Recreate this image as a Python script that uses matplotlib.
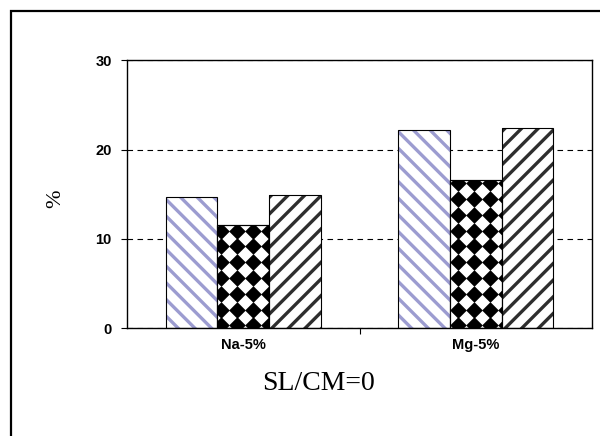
import numpy as np
import matplotlib
matplotlib.use("Agg")
import matplotlib.pyplot as plt
from matplotlib.patches import Rectangle

# values (%) for the three series in each group
groups = ["Na-5%", "Mg-5%"]
series_a = [14.7, 22.2]
series_b = [11.6, 16.6]
series_c = [14.9, 22.4]
yticks = [0, 10, 20, 30]

plt.rcParams["hatch.linewidth"] = 2.4

fig = plt.figure(figsize=(6, 4.36), dpi=100)
ax = fig.add_axes([127 / 600, 1 - 328 / 436, 465 / 600, 267.5 / 436])

# outer frame (only left/top edges fall inside the image)
fig.patches.append(Rectangle((11 / 600, -0.5), 2.0, 1 - 11 / 436 + 0.5,
                             transform=fig.transFigure, fill=False,
                             edgecolor="black", linewidth=1.6))

ax.set_xlim(-0.5, 1.5)
ax.set_ylim(0, 30)
x = np.arange(len(groups))
w = 0.222

# dashed grid behind the bars
ax.set_axisbelow(True)
ax.yaxis.grid(True, color="black", linestyle=(0, (5, 4)), linewidth=0.8)

# series a: light blue stripes
ax.bar(x - w, series_a, w, color="white", edgecolor="#9c9cd0", hatch="\\\\", linewidth=0)
ax.bar(x - w, series_a, w, fill=False, edgecolor="black", linewidth=0.8)

# series b: black diamonds on white
bars_b = ax.bar(x, series_b, w, color="white", edgecolor="black", linewidth=0.8)

# series c: dark stripes
ax.bar(x + w, series_c, w, color="white", edgecolor="#2e2e2e", hatch="//", linewidth=0)
ax.bar(x + w, series_c, w, fill=False, edgecolor="black", linewidth=0.8)

# diamond pattern clipped to each bar of series b
step = 15.8
inv = ax.transData.inverted()
for bar in bars_b:
    x0, y0 = ax.transData.transform((bar.get_x(), 0))
    x1, y1 = ax.transData.transform((bar.get_x() + bar.get_width(), bar.get_height()))
    gx = np.arange(np.floor(x0 / step) * step, x1 + step, step)
    gy = np.arange(np.floor(y0 / step) * step, y1 + step, step)
    XX, YY = np.meshgrid(gx, gy)
    pts = inv.transform(np.column_stack([XX.ravel(), YY.ravel()]))
    sc = ax.scatter(pts[:, 0], pts[:, 1], marker="D", s=72, color="black",
                    linewidths=0, zorder=2)
    sc.set_clip_path(bar)
ax.bar(x, series_b, w, fill=False, edgecolor="black", linewidth=0.8, zorder=3)

for s in ax.spines.values():
    s.set_linewidth(1.0)

ax.set_yticks(yticks)
ax.set_yticklabels([str(v) for v in yticks], fontfamily="Liberation Sans",
                   fontweight="bold", fontsize=10.5)
ax.tick_params(axis="y", direction="out", length=4, width=0.8, pad=7)

ax.set_xticks(x)
ax.set_xticklabels(groups, fontfamily="Liberation Sans", fontweight="bold", fontsize=10.5)
ax.set_xticks([0.5], minor=True)
ax.tick_params(axis="x", which="major", length=0, pad=7)
ax.tick_params(axis="x", which="minor", direction="out", length=4, width=0.8)

ax.set_ylabel("%", fontfamily="Liberation Serif", fontsize=16)
ax.yaxis.set_label_coords(-62 / 465, (328 - 199) / 267.5)
fig.text(318 / 600, 1 - 383 / 436, "SL/CM=0", fontfamily="Liberation Serif",
         fontsize=20, ha="center", va="center")

fig.savefig("out.png", dpi=100)
